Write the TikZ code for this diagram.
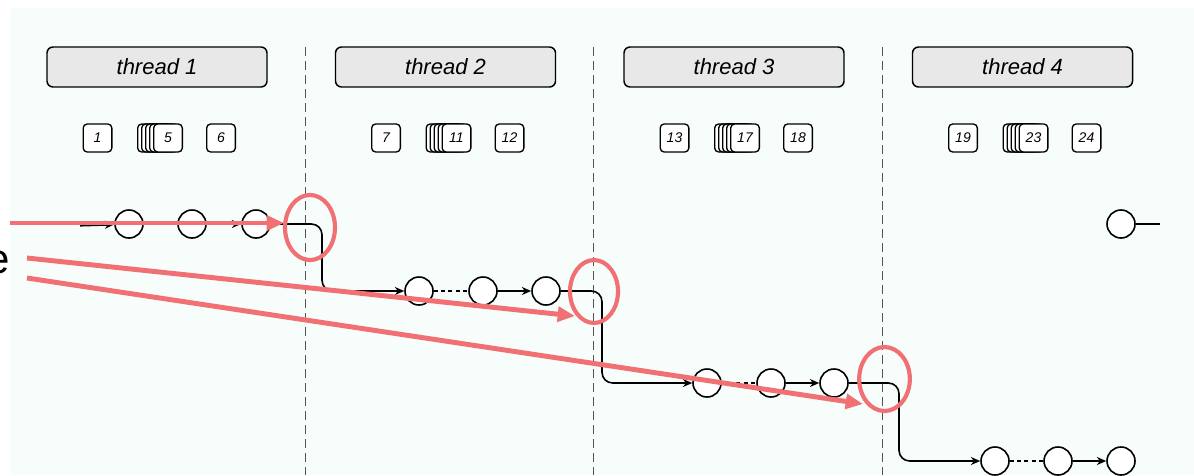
\documentclass[tikz,border=0pt]{standalone}
\usepackage{fontspec}
\setmainfont{Liberation Sans}
\usetikzlibrary{arrows.meta}
\definecolor{bgc}{RGB}{246,253,250}
\definecolor{hdr}{RGB}{232,232,232}
\definecolor{redc}{RGB}{240,112,116}
\definecolor{dashc}{RGB}{85,85,85}
\begin{document}
\begin{tikzpicture}[x=0.75pt,y=-0.75pt,
  hdrbox/.style={draw=black, line width=1.1pt, fill=hdr, rounded corners=4.5pt, minimum width=165pt, minimum height=30pt, inner sep=0pt, font=\fontsize{16.5}{18}\selectfont\itshape},
  numbox/.style={draw=black, line width=1pt, fill=white, rounded corners=3pt, minimum width=21.5pt, minimum height=21pt, inner sep=0pt, font=\fontsize{10.5}{11}\selectfont\itshape},
  dotnode/.style={circle, draw=black, line width=1.2pt, fill=white, minimum size=21pt, inner sep=0pt},
  conn/.style={draw=black, line width=1.2pt},
  arr/.style={conn, -{Stealth[length=7pt,width=6pt]}},
  dotc/.style={conn, dash pattern=on 3pt off 2.5pt},
  sepline/.style={draw=dashc, line width=0.6pt, dash pattern=on 6.5pt off 4pt},
  redl/.style={draw=redc, line width=3.7pt, -{Triangle[length=13pt,width=11pt]}},
  redo/.style={draw=redc, line width=3.1pt},
]
\useasboundingbox (0,0) rectangle (1194,475);
\fill[bgc] (10,8) rectangle (1194,475);

% separators
\foreach \sx [count=\k] in {305,593.5,882} {
  \coordinate (st\k) at (\sx,47);
  \coordinate (sb\k) at (\sx,475);
  \draw[sepline] (st\k) -- (sb\k);
}

% headers and number boxes
\foreach \i in {0,...,3} {
  \pgfmathsetmacro\dx{288.5*\i}
  \pgfmathtruncatemacro\tn{\i+1}
  \pgfmathtruncatemacro\na{6*\i+1}
  \pgfmathtruncatemacro\nb{6*\i+5}
  \pgfmathtruncatemacro\nc{6*\i+6}
  \node[hdrbox] (h\i) at (157+\dx,67) {thread \tn};
  \node[numbox] (n\i a) at (97.5+\dx,138) {\na};
  \node[numbox] (n\i s4) at (152+\dx,138) {};
  \node[numbox] (n\i s3) at (156+\dx,138) {};
  \node[numbox] (n\i s2) at (160+\dx,138) {};
  \node[numbox] (n\i s1) at (164+\dx,138) {};
  \node[numbox] (n\i b) at (168+\dx,138) {\nb};
  \node[numbox] (n\i c) at (221+\dx,138) {\nc};
}

% circles
\node[dotnode] (a1) at (129,224) {};
\node[dotnode] (a2) at (192,224) {};
\node[dotnode] (a3) at (256,224) {};
\node[dotnode] (b1) at (419,291) {};
\node[dotnode] (b2) at (483,291) {};
\node[dotnode] (b3) at (546,291) {};
\node[dotnode] (c1) at (707,383) {};
\node[dotnode] (c2) at (771,383) {};
\node[dotnode] (c3) at (834,383) {};
\node[dotnode] (d1) at (995,461) {};
\node[dotnode] (d2) at (1058,461) {};
\node[dotnode] (d3) at (1121,461) {};
\node[dotnode] (e1) at (1121,224) {};
\coordinate (s0) at (80,225.5);
\coordinate (eend) at (1160,224);

% connectors
\draw[arr, line width=1.6pt] (s0) -- (a1);
\draw[dotc] (a1) -- (a2);
\draw[arr] (a2) -- (a3);
\draw[arr, rounded corners=8pt] (a3.east) -- (322,224) -- (322,291) -- (b1.west);
\draw[dotc] (b1) -- (b2);
\draw[arr] (b2) -- (b3);
\draw[arr, rounded corners=8pt] (b3.east) -- (602,291) -- (602,383) -- (c1.west);
\draw[dotc] (c1) -- (c2);
\draw[arr] (c2) -- (c3);
\draw[arr, rounded corners=8pt] (c3.east) -- (899,383) -- (899,461) -- (d1.west);
\draw[dotc] (d1) -- (d2);
\draw[arr] (d2) -- (d3);
\draw[conn, line width=1.6pt] (e1) -- (eend);

% partial label on the left (cut off by the edge, as in the reference)
\node[anchor=base east, inner sep=0pt, font=\fontsize{31.5}{32}\selectfont] (etxt) at (10,273) {e};

% red annotations
\coordinate (r1s) at (10,223);
\coordinate (r1e) at (284,223);
\coordinate (r2s) at (27,258);
\coordinate (r2e) at (575,316);
\coordinate (r3s) at (27,278);
\coordinate (r3e) at (863,404);
\draw[redl] (r1s) -- (r1e);
\draw[redl] (r2s) -- (r2e);
\draw[redl] (r3s) -- (r3e);
\draw[redo] (310,227.5) ellipse [x radius=18.75pt, y radius=24.4pt];
\draw[redo] (594,291.5) ellipse [x radius=18pt, y radius=23.6pt];
\draw[redo] (884.5,379) ellipse [x radius=19pt, y radius=24pt];
\end{tikzpicture}
\end{document}
